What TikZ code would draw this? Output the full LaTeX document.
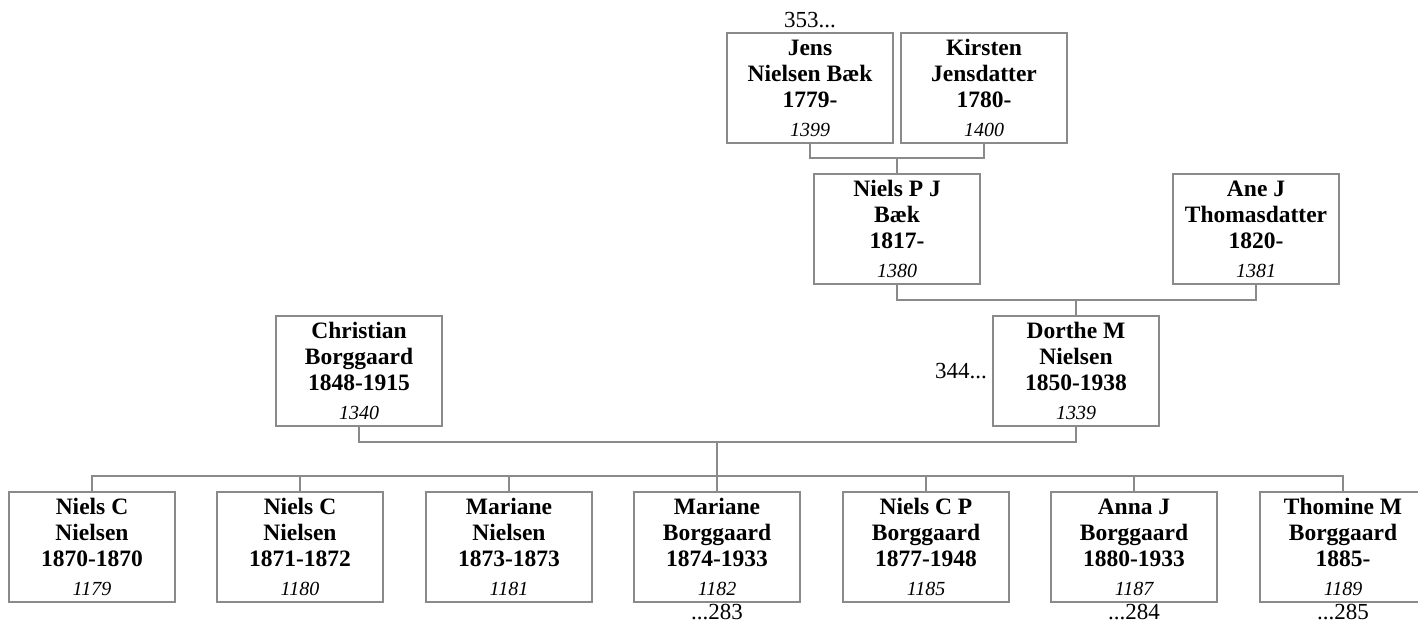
\documentclass[tikz,border=0pt]{standalone}
\usepackage{fontspec}
\setmainfont{Liberation Serif}
\usetikzlibrary{positioning}
\definecolor{ftLine}{HTML}{8A8A8A}
\newcommand{\ftnum}[1]{{\fontsize{10}{12}\selectfont\mdseries\itshape #1}}
\tikzset{
  person/.style={rectangle, draw=ftLine, line width=0.75pt, fill=white,
    minimum width=83pt, minimum height=55pt, inner sep=0pt,
    align=center, font=\fontsize{11.75}{13}\selectfont\bfseries},
  famline/.style={draw=ftLine, line width=0.75pt},
  reflabel/.style={font=\fontsize{11.5}{13}\selectfont, inner sep=0pt}
}
\begin{document}
\begin{tikzpicture}[x=0.5pt, y=-0.5pt]
    \useasboundingbox (0,0) rectangle (1418,624);
    \node[person] (jens) at (810,88) {Jens\\Nielsen Bæk\\1779-\\[1.5pt]\ftnum{1399}};
    \node[person] (kirsten) at (984,88) {Kirsten\\Jensdatter\\1780-\\[1.5pt]\ftnum{1400}};
    \node[person] (nielspj) at (897,229) {Niels P J\\Bæk\\1817-\\[1.5pt]\ftnum{1380}};
    \node[person] (anej) at (1256,229) {Ane J\\Thomasdatter\\1820-\\[1.5pt]\ftnum{1381}};
    \node[person] (christian) at (359,371) {Christian\\Borggaard\\1848-1915\\[1.5pt]\ftnum{1340}};
    \node[person] (dorthe) at (1076,371) {Dorthe M\\Nielsen\\1850-1938\\[1.5pt]\ftnum{1339}};
    \foreach \i/\x/\nm/\yr/\num in {
        1/92/{Niels C\\Nielsen}/1870-1870/1179,
        2/300/{Niels C\\Nielsen}/1871-1872/1180,
        3/509/{Mariane\\Nielsen}/1873-1873/1181,
        4/717/{Mariane\\Borggaard}/1874-1933/1182,
        5/926/{Niels C P\\Borggaard}/1877-1948/1185,
        6/1134/{Anna J\\Borggaard}/1880-1933/1187,
        7/1343/{Thomine M\\Borggaard}/1885-/1189
      }{
        \node[person] (c\i) at (\x,547) {\nm\\\yr\\[1.5pt]\ftnum{\num}};
      }
    \coordinate (jkbar) at (897,158);
    \draw[famline] (jens.south) |- (jkbar) -| (kirsten.south);
    \draw[famline] (jkbar) -- (nielspj.north);
    \coordinate (nabar) at (1076,300);
    \draw[famline] (nielspj.south) |- (nabar) -| (anej.south);
    \draw[famline] (nabar) -- (dorthe.north);
    \coordinate (cdbar) at (717,442);
    \draw[famline] (christian.south) |- (cdbar) -| (dorthe.south);
    \coordinate (kidbar) at (717,476);
    \draw[famline] (cdbar) -- (kidbar);
    \draw[famline] (c1.north) |- (kidbar) -| (c7.north);
    \foreach \i in {2,...,6}
      \draw[famline] (c\i.north) -- (c\i.north |- kidbar);
    \node[reflabel, above=2pt of jens] (ref353) {353...};
    \node[reflabel, left=2.5pt of dorthe] (ref344) {344...};
    \node[reflabel, below=0.5pt of c4] (ref283) {...283};
    \node[reflabel, below=0.5pt of c6] (ref284) {...284};
    \node[reflabel, below=0.5pt of c7] (ref285) {...285};
  \end{tikzpicture}
\end{document}
